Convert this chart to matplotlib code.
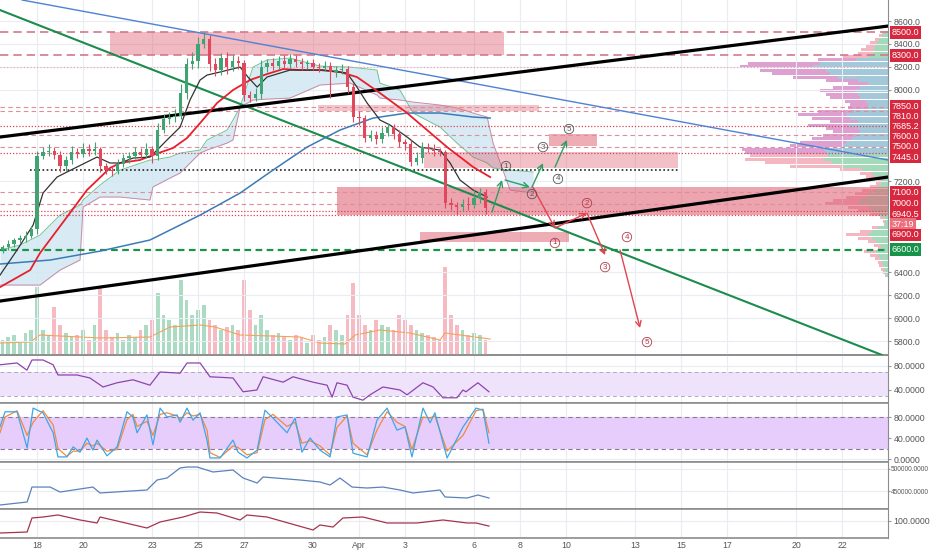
import matplotlib
matplotlib.use("Agg")
import matplotlib.pyplot as plt
import numpy as np

plt.rcParams['font.family'] = ['Liberation Sans', 'DejaVu Sans']

# time axis: day number counted from 1 March (1 April = 32), candles every 6h
start_day = 16.5
bar_step = 0.25
first_open = 6600
closes = [6620, 6650, 6680, 6700, 6720, 6780,
          7420, 7450, 7460, 7430, 7330, 7380,
          7450, 7440, 7480, 7460, 7480, 7330,
          7300, 7290, 7350, 7400, 7420, 7450,
          7430, 7480, 7420, 7650, 7740, 7760,
          7770, 7970, 8220, 8250, 8400, 8440,
          8220, 8170, 8280, 8200, 8250, 8230,
          7950, 7930, 7960, 8200, 8230, 8210,
          8250, 8220, 8270, 8240, 8220, 8230,
          8200, 8190, 8210, 8150, 8170, 8180,
          8020, 7760, 7750, 7580, 7600, 7570,
          7620, 7670, 7610, 7540, 7520, 7370,
          7400, 7500, 7480, 7460, 7450, 7010,
          6990, 6970, 7000, 6990, 7050, 7100,
          6960]
up_wick = [20, 30, 25, 30, 40, 30,
           40, 50, 60, 40, 30, 40,
           60, 40, 50, 40, 60, 20,
           30, 30, 40, 40, 30, 50,
           40, 50, 30, 60, 50, 40,
           60, 80, 60, 80, 60, 60,
           40, 60, 40, 50, 50, 40,
           30, 40, 50, 60, 40, 50,
           40, 50, 40, 30, 40, 30,
           40, 30, 40, 30, 40, 40,
           30, 40, 50, 30, 50, 40,
           50, 40, 30, 40, 30, 40,
           50, 40, 30, 40, 30, 20,
           40, 30, 40, 60, 70, 40,
           30]
dn_wick = [30, 20, 30, 20, 30, 20,
           40, 30, 30, 40, 50, 40,
           30, 40, 30, 40, 30, 50,
           40, 50, 30, 30, 40, 30,
           40, 30, 60, 40, 30, 40,
           40, 30, 50, 40, 60, 40,
           60, 50, 40, 60, 40, 50,
           50, 40, 30, 40, 50, 40,
           30, 40, 30, 40, 50, 40,
           30, 40, 30, 220, 40, 30,
           50, 40, 60, 40, 30, 50,
           40, 30, 40, 40, 50, 40,
           30, 40, 30, 40, 30, 50,
           40, 60, 30, 40, 30, 40,
           50]
volume = [15, 18, 20, 12, 22, 25,
          68, 25, 20, 48, 30, 22,
          18, 20, 25, 15, 30, 67,
          25, 18, 22, 15, 20, 18,
          25, 30, 35, 62, 40, 35,
          30, 75, 55, 40, 45, 50,
          35, 30, 25, 28, 30, 25,
          75, 45, 30, 40, 25, 20,
          22, 18, 15, 20, 18, 12,
          20, 15, 18, 30, 25, 20,
          40, 72, 40, 30, 25, 35,
          30, 28, 25, 40, 35, 30,
          25, 22, 20, 18, 15, 88,
          40, 30, 25, 20, 22, 20,
          15]
vol_ma_day = [16.39, 17.7, 18.13, 19.0, 20.74, 22.91, 23.78, 25.09, 25.74, 26.83,
              29.43, 30.3, 31.39, 31.83, 32.91, 34.22, 35.52, 35.74, 36.39, 37.7]
vol_ma = [12, 13, 20, 19, 17, 18, 28, 30, 28, 20, 18, 12, 11, 20, 25, 22, 15, 22, 20, 16]

# moving averages
ma_fast_day = [16.39, 17.13, 17.83, 18.26, 18.87, 19.74, 20.61, 21.17, 21.61, 22.17, 22.91, 23.22,
               23.65, 24.22, 24.65, 25.09, 25.39, 25.96, 26.83, 27.17, 27.57, 28.0, 29.0, 30.43,
               31.48, 31.91, 32.35, 32.91, 33.35, 34.09, 34.65, 35.52, 35.96, 36.39, 36.96, 37.57]
ma_fast = [6377, 6596, 6815, 7095, 7235, 7323, 7410, 7358, 7358, 7401, 7410, 7471,
           7559, 7672, 7909, 8084, 8127, 8154, 8197, 8110, 8022, 8110, 8171, 8171,
           8145, 8022, 7883, 7734, 7690, 7585, 7497, 7471, 7358, 7209, 7121, 7060]
ma_mid_day = [16.39, 17.70, 18.13, 19.30, 20.17, 21.17, 21.61, 22.48, 23.04, 23.91, 24.52, 25.09,
              25.83, 26.52, 27.26, 28.0, 28.70, 29.43, 30.30, 31.17, 31.91, 32.91, 34.09, 34.96,
              35.83, 36.96, 37.70]
ma_mid = [6272, 6421, 6570, 6885, 7121, 7314, 7358, 7384, 7428, 7489, 7576, 7707,
          7883, 7996, 8084, 8136, 8180, 8171, 8171, 8154, 8110, 7970, 7795, 7646,
          7497, 7323, 7235]
ma_slow_day = [16.39, 18.57, 20.74, 22.91, 25.09, 26.83, 28.26, 29.74, 31.17, 32.61, 34.09, 35.52,
               36.96, 37.70]
ma_slow = [6474, 6509, 6587, 6684, 6902, 7095, 7296, 7497, 7646, 7751, 7795, 7795, 7760, 7751]

# ichimoku cloud
cloud_day = [16.39, 17.26, 18.13, 19.0, 19.87, 20.0, 20.74, 21.61, 22.91, 23.04, 23.78, 24.22,
             25.09, 25.39, 26.26, 26.52, 26.83, 27.39, 28.0, 29.0, 30.30, 31.61, 32.78, 32.91,
             33.78, 34.35, 35.52, 36.26, 36.96, 37.57, 37.83, 38.57, 39.57]
span_a = [6596, 6640, 6727, 6902, 6990, 7034, 7165, 7296, 7384, 7384, 7410, 7445,
          7471, 7559, 7646, 7734, 7847, 8197, 8259, 8276, 8206, 8197, 8171, 8057,
          7996, 7795, 7672, 7532, 7410, 7358, 7314, 7296, 7279]
span_b = [6290, 6290, 6290, 6421, 6509, 6972, 7060, 7060, 7034, 7148, 7226, 7270,
          7445, 7471, 7532, 7559, 7847, 7909, 7917, 7926, 8040, 8057, 7953, 7926,
          7909, 7891, 7865, 7839, 7795, 7760, 7532, 7121, 7095]

# trend lines (start day, start price, end day, end price)
trend_blue = [17.35, 8784, 55.0, 7384]
trend_green = [16.39, 8696, 54.74, 5678]
trend_black_top = [16.39, 7585, 55.0, 8556]
trend_black_low = [16.39, 6150, 55.0, 7235]

# zones (day from, day to, price low, price high, alpha)
zone_d0 = [21.17, 30.22, 40.26, 34.83, 31.04, 34.65]
zone_d1 = [38.30, 39.83, 42.35, 45.87, 55.0, 41.13]
zone_lo = [8300, 7815, 7510, 7314, 6902, 6666]
zone_hi = [8500, 7861, 7610, 7454, 7147, 6754]
zone_alpha = [0.42, 0.35, 0.5, 0.38, 0.55, 0.5]

# horizontal levels
levels_dash_strong = [8500, 8300]
levels_dash = [7850, 7810, 7600, 7500, 7100, 7000]
levels_dot_red = [7685.2, 7445, 6940.5, 6900]
levels_dot_light = [8200]
level_green = 6600
level_black = [7300, 17.7, 45.87]

# right price badges: text, position, kind
badge_text = ["8500.0", "8300.0", "7850.0", "7810.0", "7685.2", "7600.0", "7500.0", "7445.0",
              "7100.0", "7000.0", "6940.5", "37:19", "6900.0", "6600.0"]
badge_pos = [8500, 8300, 7856, 7769, 7673, 7594, 7500, 7410, 7100, 7000, 6911, 6824, 6728, 6600]
badge_kind = ["r", "r", "r", "r", "r", "r", "r", "r", "r", "r", "r", "l", "r", "g"]

# scenario arrows
g_x0 = [37.78, 38.35, 39.52, 40.52]
g_y0 = [6929, 7209, 7147, 7322]
g_x1 = [38.22, 39.43, 40.0, 41.04]
g_y1 = [7209, 7147, 7357, 7559]
g_lab_x = [38.39, 39.52, 40.0, 40.65, 41.13]
g_lab_y = [7331, 7086, 7497, 7218, 7655]
r_x0 = [39.56, 40.52, 41.91, 43.35]
r_y0 = [7147, 6789, 6920, 6596]
r_x1 = [40.52, 41.91, 42.70, 44.22]
r_y1 = [6789, 6920, 6552, 5914]
r_lab_x = [40.52, 41.91, 42.70, 43.65, 44.52]
r_lab_y = [6658, 7007, 6447, 6710, 5791]

# volume profile
prof_price = np.arange(8500, 6340, -30)
prof_total = [6, 9, 13, 18, 22, 27, 30, 45, 70, 140, 148, 128, 116, 95, 62, 40, 55, 68, 62, 58,
              43, 38, 40, 70, 90, 76, 58, 80, 62, 55, 65, 76, 88, 98, 146, 143, 138, 143, 123, 98,
              48, 28, 22, 10, 12, 18, 26, 33, 42, 55, 63, 40, 30, 18, 8, 5, 4, 16, 28, 42,
              30, 20, 14, 10, 24, 18, 13, 10, 9, 7, 5, 3]
prof_up = [4, 6, 9, 11, 13, 14, 15, 20, 32, 68, 75, 62, 58, 50, 30, 20, 28, 32, 30, 28,
           22, 20, 20, 34, 42, 38, 30, 40, 30, 28, 32, 36, 42, 46, 64, 62, 60, 64, 56, 46,
           26, 16, 13, 6, 7, 10, 14, 18, 22, 28, 30, 20, 16, 10, 5, 3, 3, 10, 16, 20,
           16, 12, 8, 6, 12, 10, 8, 6, 5, 4, 3, 2]

# indicators
rsi_day = [16.39, 17.13, 17.56, 17.78, 18.26, 18.7, 18.91, 19.74, 20.3, 20.87, 21.48, 22.17,
           22.91, 23.35, 24.22, 24.52, 25.09, 25.52, 26.52, 26.96, 27.56, 27.83, 28.7, 29.13,
           30.0, 30.61, 30.83, 31.04, 31.48, 31.74, 32.17, 32.48, 33.04, 33.78, 34.09, 34.78,
           35.22, 35.65, 36.26, 36.52, 36.65, 37.17, 37.65]
rsi = [82, 85, 73, 90, 90, 82, 65, 65, 60, 45, 52, 57, 48, 70, 68, 85, 85, 62, 60, 37, 40, 62,
       53, 62, 53, 48, 28, 52, 48, 28, 23, 32, 45, 40, 32, 52, 45, 27, 27, 40, 37, 52, 37]

stoch_day = [16.39, 16.61, 17.13, 17.57, 17.83, 18.26, 18.7, 18.91, 19.30, 19.57, 19.87, 20.17,
             20.43, 20.61, 21.04, 21.48, 21.91, 22.17, 22.35, 22.78, 23.04, 23.35, 23.65, 24.09,
             24.22, 24.52, 24.78, 25.09, 25.39, 25.52, 25.96, 26.52, 26.74, 27.13, 27.57, 27.91,
             28.26, 28.87, 29.22, 29.52, 29.87, 30.3, 30.74, 31.04, 31.48, 31.74, 32.35, 32.78,
             33.22, 33.65, 34.0, 34.3, 34.78, 35.09, 35.3, 35.83, 36.52, 37.09, 37.39, 37.65]
stoch_k = [61, 90, 90, 21, 97, 88, 50, 4, 4, 23, 13, 40, 17, 36, 6, 23, 90, 80, 50, 84,
           27, 97, 80, 84, 70, 97, 74, 88, 36, 2, 2, 36, 13, 2, 17, 93, 78, 50, 78, 13,
           40, 17, 4, 80, 84, 11, 4, 74, 97, 55, 61, 4, 97, 69, 88, 2, 61, 97, 93, 30]
stoch_d = [50, 80, 92, 45, 70, 92, 65, 20, 5, 15, 15, 30, 25, 30, 15, 18, 75, 85, 62, 72,
           45, 85, 88, 82, 75, 88, 82, 85, 55, 12, 3, 25, 22, 8, 12, 75, 85, 62, 70, 30,
           35, 25, 8, 60, 82, 30, 8, 55, 90, 70, 62, 18, 80, 78, 82, 15, 45, 92, 95, 50]

obv_day = [16.39, 17.57, 17.78, 18.57, 19.0, 20.43, 20.74, 22.78, 23.22, 23.65, 24.22, 24.52,
           24.96, 25.65, 26.52, 26.96, 27.57, 27.83, 29.43, 30.3, 30.74, 31.17, 31.7, 32.35,
           33.04, 33.78, 34.35, 35.52, 35.74, 36.7, 37.17, 37.65]
obv = [418200, 425000, 459000, 459000, 447700, 459000, 445500, 452300, 475000, 479500,
       502300, 504500, 504500, 493200, 497700, 479500, 468200, 481800, 475000, 470500,
       463600, 479500, 459000, 456800, 459000, 452300, 445500, 452300, 436400, 434100,
       440900, 434100]

osc_day = [16.39, 17.57, 17.78, 18.26, 18.91, 19.87, 20.61, 20.74, 22.78, 23.35, 24.35, 25.09,
           25.83, 26.83, 27.13, 28.0, 30.0, 30.3, 30.87, 31.3, 32.17, 33.22, 34.52, 35.65,
           36.7, 37.09, 37.65]
osc = [66.9, 69.6, 108.3, 111, 116.6, 102.8, 94.5, 111, 80.7, 97.2, 111, 124.8, 122, 102.8,
       116.6, 111, 75.2, 89, 83.4, 108.3, 111, 94.5, 94.5, 102.8, 94.5, 94.5, 86]

date_ticks = [18, 20, 23, 25, 27, 30, 32, 34, 37, 39, 41, 44, 46, 48, 51, 53]
date_labels = ["18", "20", "23", "25", "27", "30", "Apr", "3", "6", "8", "10", "13", "15", "17", "20", "22"]

# ---------------------------------------------------------------- layout
fig = plt.figure(figsize=(9.32, 5.5), dpi=100)
W = 888 / 932
H = 550.0
ax = fig.add_axes([0, 1 - 355 / H, W, 355 / H])
ax_rsi = fig.add_axes([0, 1 - 403 / H, W, 48 / H], sharex=ax)
ax_st = fig.add_axes([0, 1 - 462 / H, W, 59 / H], sharex=ax)
ax_obv = fig.add_axes([0, 1 - 509 / H, W, 47 / H], sharex=ax)
ax_osc = fig.add_axes([0, 1 - 538 / H, W, 29 / H], sharex=ax)
panels = [ax, ax_rsi, ax_st, ax_obv, ax_osc]

# twins of the main panel: volume profile (behind) and volume bars
ax_prof = ax.twiny()
ax_vol = ax.twinx()

grid_c = "#e9ecf2"
for a in panels:
    a.set_xlim(16.39, 55.0)
    a.spines['left'].set_visible(False)
    a.spines['right'].set_color('#8c8c8c')
    a.spines['top'].set_color('#8c8c8c')
    a.spines['bottom'].set_color('#8c8c8c')
    a.spines['top'].set_linewidth(1.2)
    a.spines['bottom'].set_linewidth(1.2)
    a.yaxis.tick_right()
    a.tick_params(axis='y', labelsize=6.3, labelcolor='#555555', color='#999999', length=2.5, pad=1.5,
                  left=False, labelleft=False, right=True, labelright=True)
    a.tick_params(axis='x', length=0, labelbottom=False)
    a.set_xticks(date_ticks)
    a.grid(axis='both', color=grid_c, lw=0.8)
    a.set_axisbelow(True)
ax.spines['top'].set_visible(False)

# ---------------------------------------------------------------- main panel
ax.set_ylim(5678, 8784)
plain_ticks = [8600, 8400, 8200, 8000, 7200, 6400, 6200, 6000, 5800]
ax.set_yticks(plain_ticks)
ax.set_yticklabels([f"{v:.1f}" for v in plain_ticks])

ax_prof.set_xlim(888, 0)
ax_prof.set_ylim(ax.get_ylim())
ax_prof.axis('off')
in_va = (prof_price >= 7440) & (prof_price <= 8280)
up_col = np.where(in_va, '#93bfd3', '#92d4ae')
dn_col = np.where(in_va, '#d88fc8', '#f3a9b6')
prof_total = np.array(prof_total)
prof_up = np.array(prof_up)
ax_prof.barh(prof_price, prof_up, height=26, color=up_col, alpha=0.85, lw=0)
ax_prof.barh(prof_price, prof_total - prof_up, left=prof_up, height=26, color=dn_col, alpha=0.85, lw=0)

ax_vol.set_ylim(0, 355)
ax_vol.axis('off')

ax_prof.set_zorder(0)
ax_vol.set_zorder(1)
ax.set_zorder(2)
ax.patch.set_visible(False)
ax_vol.patch.set_visible(False)

closes = np.array(closes, dtype=float)
opens = np.concatenate([[first_open], closes[:-1]])
days = start_day + bar_step * np.arange(len(closes))
highs = np.maximum(opens, closes) + np.array(up_wick)
lows = np.minimum(opens, closes) - np.array(dn_wick)
bull = closes >= opens
col = np.where(bull, '#3fa372', '#e0485c')

ax_vol.bar(days, volume, width=0.17, color=np.where(bull, '#8fd0ae', '#f2a3ae'), alpha=0.75, lw=0)
ax_vol.plot(vol_ma_day, vol_ma, color='#f3a25c', lw=0.8)

# cloud
ax.fill_between(cloud_day, span_a, span_b, color='#cfe7f2', alpha=0.8, lw=0, zorder=1)
ax.plot(cloud_day, span_a, color='#72c293', lw=0.7, zorder=1.2)
ax.plot(cloud_day, span_b, color='#c98aa6', lw=0.7, zorder=1.2)

# zones
for d0, d1, lo, hi, al in zip(zone_d0, zone_d1, zone_lo, zone_hi, zone_alpha):
    ax.fill_between([d0, d1], [lo, lo], [hi, hi], color='#de5a6c', alpha=al, lw=0, zorder=1.5)

# levels
for p in levels_dash_strong:
    ax.axhline(p, color='#d4788a', lw=1.2, ls=(0, (5, 3)), zorder=2)
for p in levels_dash:
    ax.axhline(p, color='#e08d9b', lw=0.8, ls=(0, (4, 3)), zorder=2)
for p in levels_dot_red:
    ax.axhline(p, color='#d8455a', lw=0.9, ls=(0, (1, 1.5)), zorder=2)
for p in levels_dot_light:
    ax.axhline(p, color='#e9a0ac', lw=0.8, ls=(0, (1, 2)), zorder=2)
ax.axhline(level_green, color='#1b9348', lw=1.6, ls=(0, (3, 2)), zorder=2)
ax.plot(level_black[1:], [level_black[0]] * 2, color='#222222', lw=1.2, ls=(0, (1, 1.5)), zorder=2)

# trend lines
ax.plot(trend_blue[0::2], trend_blue[1::2], color='#4f82d4', lw=1.0, zorder=3)
ax.plot(trend_green[0::2], trend_green[1::2], color='#1b8c4c', lw=1.5, zorder=3)
ax.plot(trend_black_top[0::2], trend_black_top[1::2], color='#000000', lw=2.3, zorder=3)
ax.plot(trend_black_low[0::2], trend_black_low[1::2], color='#000000', lw=2.3, zorder=3)

# moving averages
ax.plot(ma_slow_day, ma_slow, color='#3c7bb6', lw=1.1, zorder=4)
ax.plot(ma_mid_day, ma_mid, color='#e8202c', lw=1.3, zorder=4)
ax.plot(ma_fast_day, ma_fast, color='#333333', lw=0.9, zorder=4)

# candles
ax.vlines(days, lows, highs, colors=col, lw=0.8, zorder=5)
body = np.maximum(np.abs(closes - opens), 6)
ax.bar(days, body, bottom=np.minimum(opens, closes), width=0.15, color=col, lw=0, zorder=5)

# scenario arrows
for x0, y0, x1, y1 in zip(g_x0, g_y0, g_x1, g_y1):
    ax.annotate('', xy=(x1, y1), xytext=(x0, y0),
                arrowprops=dict(arrowstyle='->', color='#2e9e66', lw=1.0, shrinkA=0, shrinkB=0), zorder=6)
for x0, y0, x1, y1 in zip(r_x0, r_y0, r_x1, r_y1):
    ax.annotate('', xy=(x1, y1), xytext=(x0, y0),
                arrowprops=dict(arrowstyle='->', color='#e2444f', lw=1.0, shrinkA=0, shrinkB=0), zorder=6)
for i, (x, y) in enumerate(zip(g_lab_x, g_lab_y)):
    ax.text(x, y, str(i + 1), ha='center', va='center', fontsize=5.8, color='#555555', zorder=7,
            bbox=dict(boxstyle='circle,pad=0.15', fc='none', ec='#555555', lw=0.6))
for i, (x, y) in enumerate(zip(r_lab_x, r_lab_y)):
    ax.text(x, y, str(i + 1), ha='center', va='center', fontsize=5.8, color='#b03a4a', zorder=7,
            bbox=dict(boxstyle='circle,pad=0.15', fc='none', ec='#b03a4a', lw=0.6))

# right badges
badge_colors = {"r": '#d7283f', "l": '#ec6f7d', "g": '#17934a'}
for t, p, k in zip(badge_text, badge_pos, badge_kind):
    ax.text(1.004, p, t, transform=ax.get_yaxis_transform(), ha='left', va='center',
            fontsize=6.5, color='white', clip_on=False, zorder=10,
            bbox=dict(boxstyle='square,pad=0.2', fc=badge_colors[k], ec='none'))

# ---------------------------------------------------------------- RSI
ax_rsi.set_ylim(18.3, 98.3)
ax_rsi.set_yticks([80, 40])
ax_rsi.set_yticklabels(["80.0000", "40.0000"])
ax_rsi.axhspan(30, 70, color='#efe3fc', lw=0)
for v in (30, 70):
    ax_rsi.axhline(v, color='#b5a6c4', lw=0.7, ls=(0, (4, 3)))
ax_rsi.plot(rsi_day, rsi, color='#8e44ad', lw=0.9)

# ---------------------------------------------------------------- Stoch RSI
ax_st.set_ylim(-5.7, 106.7)
ax_st.set_yticks([80, 40, 0])
ax_st.set_yticklabels(["80.0000", "40.0000", "0.0000"])
ax_st.axhspan(20, 80, color='#e7cdfb', lw=0)
for v in (20, 80):
    ax_st.axhline(v, color='#8a7898', lw=0.8, ls=(0, (4, 3)))
ax_st.plot(stoch_day, stoch_d, color='#f08b3e', lw=0.9)
ax_st.plot(stoch_day, stoch_k, color='#3fa6e6', lw=0.9)

# ---------------------------------------------------------------- OBV
ax_obv.set_ylim(409100, 515900)
ax_obv.set_yticks([500000, 450000])
ax_obv.set_yticklabels(["500000.0000", "450000.0000"])
ax_obv.tick_params(axis='y', labelsize=4.7, pad=0.5, length=1.5)
ax_obv.plot(obv_day, obv, color='#5b82bb', lw=0.9)

# ---------------------------------------------------------------- last oscillator
ax_osc.set_ylim(53.1, 133.1)
ax_osc.set_yticks([100])
ax_osc.set_yticklabels(["100.0000"])
ax_osc.plot(osc_day, osc, color='#a6344c', lw=0.9)
ax_osc.tick_params(axis='x', labelbottom=True, labelsize=6.3, labelcolor='#555555', pad=2)
ax_osc.set_xticklabels(date_labels)

fig.savefig("out.png", dpi=100)
